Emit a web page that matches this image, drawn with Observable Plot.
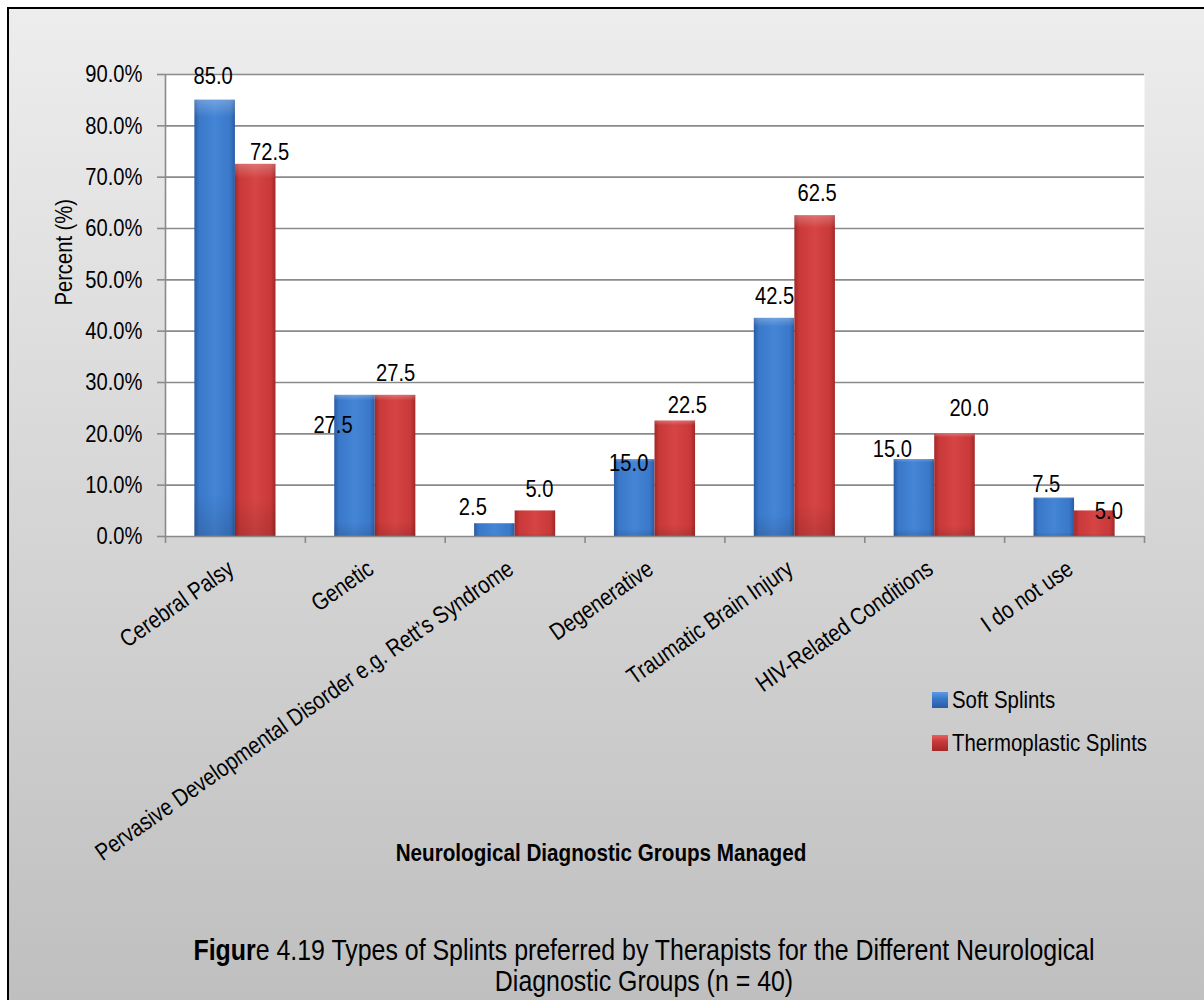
<!DOCTYPE html>
<html><head><meta charset="utf-8">
<script src="https://cdn.jsdelivr.net/npm/d3@7"></script>
<script src="https://cdn.jsdelivr.net/npm/@observablehq/plot@0.6"></script>
<style>
body{margin:0;background:#fff;}
#wrap{position:relative;width:1204px;height:1000px;overflow:hidden;background:#fff;
  font-family:"Liberation Sans Narrow","Arial Narrow","Liberation Sans",Arial,sans-serif;color:#000;}
#panel{position:absolute;left:7px;top:7px;width:1300px;height:1100px;box-sizing:border-box;
  border-left:2px solid #000;border-top:2px solid #000;
  background:linear-gradient(to bottom,#ededed 0px,#bfbfbf 993px);}
#chart{position:absolute;left:0;top:0;}
#xtitle{position:absolute;left:0;width:1202px;top:839px;text-align:center;font-size:24px;font-weight:bold;line-height:28px;transform:scaleX(0.86);transform-origin:601px 0;}
#caption{position:absolute;left:0;width:1288px;top:934px;text-align:center;font-size:30px;line-height:31px;transform:scaleX(0.83);transform-origin:644px 0;}
#legend{position:absolute;left:932px;top:686px;font-size:24px;}
.row{display:flex;align-items:center;height:28px;margin-bottom:15px;}
.sw{width:16px;height:16px;margin-right:4px;flex:none;}
.row span{display:inline-block;transform:scaleX(0.85);transform-origin:0 50%;white-space:nowrap;}
</style>
</head><body>
<div id="wrap">
  <div id="panel"></div>
  <div id="chart"></div>
  <div id="xtitle"></div>
  <div id="legend"></div>
  <div id="caption"></div>
</div>
<script>
const categories = ["Cerebral Palsy","Genetic","Pervasive Developmental Disorder e.g. Rett\u2019s Syndrome","Degenerative","Traumatic Brain Injury","HIV-Related Conditions","I do not use"];
const seriesNames = ["Soft Splints","Thermoplastic Splints"];
const softSplints = [85.0,27.5,2.5,15.0,42.5,15.0,7.5];
const thermoplasticSplints = [72.5,27.5,5.0,22.5,62.5,20.0,5.0];
const yTicks = [0,10,20,30,40,50,60,70,80,90];
const yTitle = "Percent (%)";
const xTitle = "Neurological Diagnostic Groups Managed";
const captionBold = "Figur";
const captionRest = "e 4.19 Types of Splints preferred by Therapists for the Different Neurological";
const captionLine2 = "Diagnostic Groups (n = 40)";

// label placement tweaks (pixels), as the reference's labels are shifted to avoid overlaps
const softLabelNudge = [[-2,-2],[-22,52],[-22,6],[-6,26],[0,0],[-22,12],[-8,8]];
const thermoLabelNudge = [[14,10],[0,0],[4,0],[12,6],[2,0],[14,-4],[14,22]];

const fills = {"Soft Splints":"url(#gBlue)","Thermoplastic Splints":"url(#gRed)"};
const swatch = {"Soft Splints":"linear-gradient(to bottom,#5b9be6,#3a78c9 40%,#2a5ca3)","Thermoplastic Splints":"linear-gradient(to bottom,#e86060,#c93939 40%,#a22828)"};

const half = 0.29; // half-width of a bar group, in category-band units
const rows = [];
categories.forEach((c,i)=>{
  rows.push({cat:c, i, series:seriesNames[0], value:softSplints[i], x1:i+0.5-half, x2:i+0.5, nudge:softLabelNudge[i]});
  rows.push({cat:c, i, series:seriesNames[1], value:thermoplasticSplints[i], x1:i+0.5, x2:i+0.5+half, nudge:thermoLabelNudge[i]});
});

const font = "'Liberation Sans Narrow','Arial Narrow','Liberation Sans',Arial,sans-serif";
const labelMarks = rows.map(r => Plot.text([r], {x:d=>(d.x1+d.x2)/2, y:"value", text:d=>d.value.toFixed(1), dx:r.nudge[0], dy:-22+r.nudge[1], fontSize:24, fill:"#000"}));

const chart = Plot.plot({
  width:1204, height:1000,
  marginLeft:165, marginRight:60, marginTop:74, marginBottom:464,
  style:{background:"transparent", fontFamily:font, color:"#000", overflow:"visible"},
  x:{domain:[0,categories.length], axis:null},
  y:{domain:[0,90], axis:null},
  marks:[
    Plot.frame({fill:"white", stroke:null}),
    Plot.gridY(yTicks.filter(d=>d>0), {stroke:"#8a8a8a", strokeOpacity:1, strokeWidth:1.6}),
    Plot.rectY(rows, {x1:"x1", x2:"x2", y1:0, y2:"value", fill:d=>fills[d.series]}),
    Plot.rectY(rows, {x1:"x1", x2:"x2", y1:0, y2:"value", fill:"url(#gShade)"}),
    Plot.ruleX([0], {stroke:"#8a8a8a", strokeWidth:1.6}),
    Plot.ruleY([0], {stroke:"#8a8a8a", strokeWidth:1.6}),
    Plot.axisY(yTicks, {tickFormat:d=>d.toFixed(1)+"%", tickSize:8, tickPadding:15, fontSize:24, stroke:"#8a8a8a", strokeWidth:1.6, fill:"#000", label:null}),
    Plot.axisX(d3.range(categories.length+1), {tickSize:7, tickFormat:()=>"", stroke:"#8a8a8a", strokeWidth:1.6, label:null}),
    ...labelMarks,
    Plot.text(categories, {x:(d,i)=>i+0.5, frameAnchor:"bottom", text:d=>d, rotate:-35, textAnchor:"end", dy:36, fontSize:24, fill:"#000"}),
    Plot.text([yTitle], {frameAnchor:"left", text:d=>d, rotate:-90, dx:-101, fontSize:24, fill:"#000"})
  ]
});

// gradient defs for the bevelled bars
const ns = "http://www.w3.org/2000/svg";
const defs = document.createElementNS(ns,"defs");
defs.innerHTML = `
<linearGradient id="gBlue" x1="0" x2="1" y1="0" y2="0">
 <stop offset="0" stop-color="#2a5ca3"/><stop offset="0.12" stop-color="#3a78c9"/>
 <stop offset="0.5" stop-color="#4485d6"/><stop offset="0.88" stop-color="#3a78c9"/>
 <stop offset="1" stop-color="#2a5ca3"/></linearGradient>
<linearGradient id="gRed" x1="0" x2="1" y1="0" y2="0">
 <stop offset="0" stop-color="#a22828"/><stop offset="0.12" stop-color="#c93939"/>
 <stop offset="0.5" stop-color="#d64444"/><stop offset="0.88" stop-color="#c93939"/>
 <stop offset="1" stop-color="#a22828"/></linearGradient>
<linearGradient id="gShade" x1="0" x2="0" y1="0" y2="1">
 <stop offset="0" stop-color="#ffffff" stop-opacity="0.25"/><stop offset="0.04" stop-color="#ffffff" stop-opacity="0"/>
 <stop offset="0.9" stop-color="#000000" stop-opacity="0"/><stop offset="1" stop-color="#000000" stop-opacity="0.12"/></linearGradient>`;
chart.insertBefore(defs, chart.firstChild);
document.getElementById("chart").appendChild(chart);

// narrow the (Arial-metric) text to match the condensed face of the reference
chart.querySelectorAll("text").forEach(t=>{
  const L = t.getComputedTextLength();
  if (L > 0) {
    t.setAttribute("textLength", (L*0.84).toFixed(2));
    t.setAttribute("lengthAdjust", "spacingAndGlyphs");
  }
});

document.getElementById("xtitle").textContent = xTitle;
const cap = document.getElementById("caption");
const b = document.createElement("b"); b.textContent = captionBold;
cap.appendChild(b);
cap.appendChild(document.createTextNode(captionRest));
cap.appendChild(document.createElement("br"));
cap.appendChild(document.createTextNode(captionLine2));

const leg = document.getElementById("legend");
seriesNames.forEach(s=>{
  const r = document.createElement("div"); r.className="row";
  const sw = document.createElement("div"); sw.className="sw"; sw.style.background=swatch[s];
  const t = document.createElement("span"); t.textContent = s;
  r.appendChild(sw); r.appendChild(t); leg.appendChild(r);
});
</script>
</body></html>
